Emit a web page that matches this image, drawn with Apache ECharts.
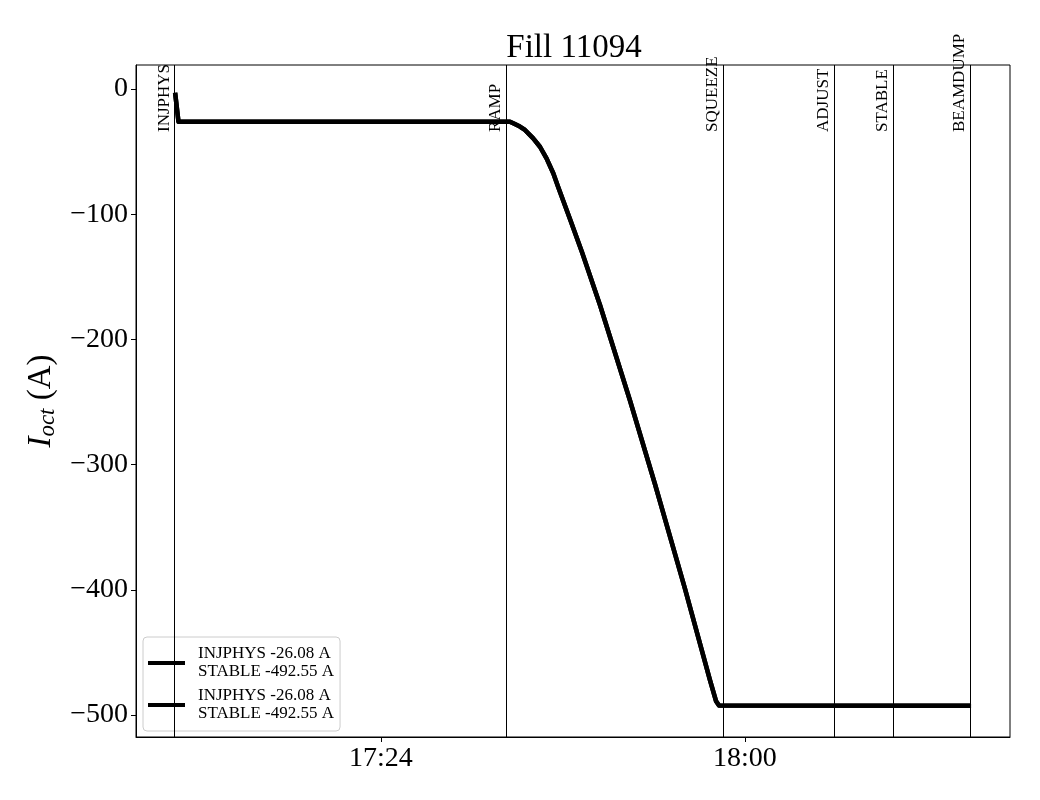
<!DOCTYPE html>
<html>
<head>
<meta charset="utf-8">
<script src="https://cdn.jsdelivr.net/npm/echarts@6/dist/echarts.min.js"></script>
<style>
  html, body { margin: 0; padding: 0; background: #fff; }
  #chart { width: 1040px; height: 800px; }
</style>
</head>
<body>
<div id="chart"></div>
<script>
// octupole current along fill 11094
const times = ['17:03:40', '17:04:00', '17:36:46', '17:37:15', '17:37:45', '17:38:15',
  '17:39:04', '17:39:44', '17:40:23', '17:41:03', '17:41:32', '17:42:42', '17:43:53',
  '17:45:40', '17:48:38', '17:51:06', '17:54:04', '17:56:32', '17:57:08', '17:57:26',
  '17:57:36', '18:22:21']
const current = [-3, -26.08, -26.08, -28.0, -30.0, -32.7,
  -39.4, -46.1, -55.4, -67.3, -78.3, -103.8, -130.2,
  -172.5, -248.8, -315.5, -399.1, -472.0, -488.8, -492.4,
  -492.55, -492.55]

// beam modes
const modeNames = ['INJPHYS', 'RAMP', 'SQUEEZE', 'ADJUST', 'STABLE', 'BEAMDUMP']
const modeTimes = ['17:03:38', '17:36:22', '17:57:49', '18:08:48', '18:14:38', '18:22:15']

const xTicks = ['17:24', '18:00']
const yTicks = [0, -100, -200, -300, -400, -500]

const legendText = 'INJPHYS -26.08 A\nSTABLE -492.55 A'

// minutes since midnight
const toMin = s => {
  const p = s.split(':').map(Number)
  return p[0] * 60 + p[1] + (p[2] || 0) / 60
}
const fmt = v => {
  const h = Math.floor(v / 60)
  const m = Math.round(v - h * 60)
  return h + ':' + String(m).padStart(2, '0')
}

const serif = '"Liberation Serif", "DejaVu Serif", serif'
const points = times.map((t, i) => [toMin(t), current[i]])

const chart = echarts.init(document.getElementById('chart'))

const lineStyle = { color: '#000', width: 4.5, join: 'round', cap: 'butt' }

chart.setOption({
  animation: false,
  title: {
    text: 'Fill 11094',
    left: 569,
    textAlign: 'center',
    top: 27,
    textStyle: { fontFamily: serif, fontSize: 33, fontWeight: 'normal', color: '#000' }
  },
  grid: {
    left: 136, right: 30, top: 65, bottom: 63,
    show: true, borderColor: '#000', borderWidth: 1
  },
  legend: {
    orient: 'vertical',
    left: 143,
    bottom: 69,
    data: ['a', 'b'],
    formatter: () => legendText,
    icon: 'rect',
    itemWidth: 37,
    itemHeight: 4,
    itemGap: 6,
    padding: [8, 6, 8, 5],
    borderColor: '#ccc',
    borderWidth: 1,
    borderRadius: 4,
    textStyle: { fontFamily: serif, fontSize: 17, lineHeight: 18, color: '#000', padding: [0, 0, 0, 8] }
  },
  xAxis: {
    type: 'value',
    min: toMin('16:59:48'),
    max: toMin('18:26:12'),
    splitLine: { show: false },
    axisLine: { show: true, onZero: false, lineStyle: { color: '#000' } },
    axisTick: { show: true, length: 5, customValues: xTicks.map(toMin), lineStyle: { color: '#000' } },
    axisLabel: {
      customValues: xTicks.map(toMin),
      formatter: v => fmt(v),
      fontFamily: serif, fontSize: 28, color: '#000', margin: 8
    }
  },
  yAxis: {
    type: 'value',
    min: -517.6,
    max: 19.2,
    splitLine: { show: false },
    axisLine: { show: true, lineStyle: { color: '#000' } },
    axisTick: { show: true, length: 5, customValues: yTicks, lineStyle: { color: '#000' } },
    axisLabel: {
      customValues: yTicks,
      formatter: v => (v < 0 ? '\u2212' + Math.abs(v) : String(v)),
      fontFamily: serif, fontSize: 28, color: '#000', margin: 8
    },
    name: '{i|I}{s|oct}{n| (A)}',
    nameLocation: 'middle',
    nameGap: 75,
    nameTextStyle: {
      rich: {
        i: { fontFamily: serif, fontStyle: 'italic', fontSize: 33, color: '#000' },
        s: { fontFamily: serif, fontStyle: 'italic', fontSize: 23, color: '#000', verticalAlign: 'bottom', padding: [12, 0, 0, 0] },
        n: { fontFamily: serif, fontSize: 33, color: '#000' }
      }
    }
  },
  series: [
    {
      name: 'a',
      type: 'line',
      data: points,
      showSymbol: false,
      lineStyle: lineStyle,
      itemStyle: { color: '#000' },
      z: 3,
      markLine: {
        silent: true,
        symbol: 'none',
        lineStyle: { color: '#000', width: 1, type: 'solid' },
        label: {
          show: true,
          position: 'insideEndTop',
          align: 'left',
          distance: [67, 2],
          formatter: p => p.name,
          fontFamily: serif, fontSize: 17, color: '#000'
        },
        data: modeNames.map((n, i) => ({ name: n, xAxis: toMin(modeTimes[i]) }))
      }
    },
    {
      name: 'b',
      type: 'line',
      data: points,
      showSymbol: false,
      lineStyle: lineStyle,
      itemStyle: { color: '#000' },
      z: 3
    }
  ]
})
</script>
</body>
</html>
